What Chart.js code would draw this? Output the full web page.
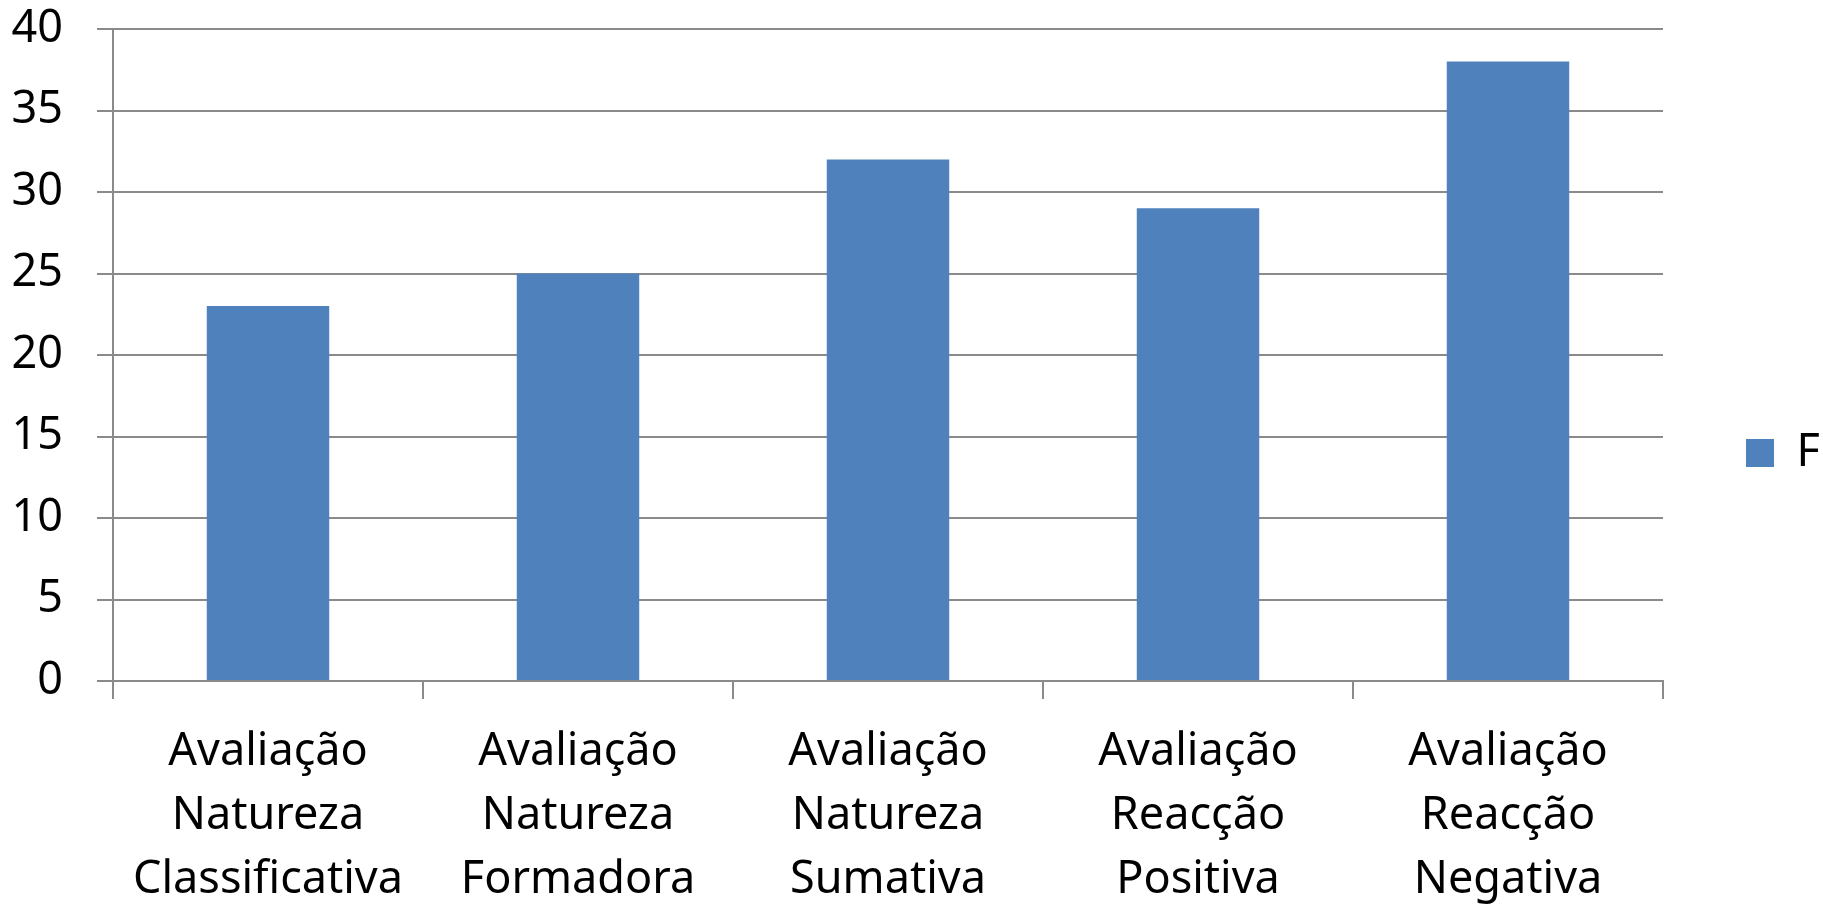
<!DOCTYPE html>
<html>
<head>
<meta charset="utf-8">
<script src="https://cdn.jsdelivr.net/npm/chart.js@4.4.0/dist/chart.umd.min.js"></script>
<style>
  html, body { margin: 0; padding: 0; background: #fff; }
  #wrap { width: 1823px; height: 906px; }
</style>
</head>
<body>
<div id="wrap"><canvas id="chart" width="1823" height="906"></canvas></div>
<script>
// categories (multi-line labels) and the single series F
const categories = [
  ['Avaliação', 'Natureza', 'Classificativa'],
  ['Avaliação', 'Natureza', 'Formadora'],
  ['Avaliação', 'Natureza', 'Sumativa'],
  ['Avaliação', 'Reacção', 'Positiva'],
  ['Avaliação', 'Reacção', 'Negativa']
];
const seriesName = 'F';
const seriesValues = [23, 25, 32, 29, 38];
const yMin = 0;
const yMax = 40;
const yStep = 5;

const gridGray = '#8a8a8a';
const barBlue = '#4f81bd';
const fontFamily = '"Noto Sans", "Open Sans", sans-serif';

Chart.defaults.font.family = fontFamily;
Chart.defaults.color = '#000';

const ctx = document.getElementById('chart');
const chartObj = new Chart(ctx, {
  type: 'bar',
  data: {
    labels: categories,
    datasets: [{
      label: seriesName,
      data: seriesValues,
      backgroundColor: barBlue,
      borderWidth: 0,
      barPercentage: 0.395,
      categoryPercentage: 1
    }]
  },
  options: {
    responsive: false,
    animation: false,
    devicePixelRatio: 1,
    layout: {
      padding: { top: 0, left: 0, right: 0, bottom: 0 }
    },
    plugins: {
      tooltip: { enabled: false },
      legend: {
        position: 'right',
        maxWidth: 160,
        labels: {
          boxWidth: 28,
          boxHeight: 28,
          padding: 83,
          color: '#000',
          font: { size: 45 }
        }
      }
    },
    scales: {
      x: {
        grid: {
          offset: true,
          drawOnChartArea: false,
          drawTicks: true,
          tickLength: 18,
          color: gridGray,
          lineWidth: 2
        },
        border: { color: gridGray, width: 2 },
        ticks: {
          padding: 21,
          color: '#000',
          maxRotation: 0,
          autoSkip: false,
          font: { size: 45, lineHeight: 1.42 }
        },
        afterFit: (s) => {
          s.height = 906 - 681;
          s.paddingLeft = 0;
          s.paddingRight = 0;
        }
      },
      y: {
        min: yMin,
        max: yMax,
        grid: {
          color: gridGray,
          lineWidth: 2,
          tickLength: 16
        },
        border: { color: gridGray, width: 2 },
        ticks: {
          stepSize: yStep,
          padding: 34,
          color: '#000',
          font: { size: 45, lineHeight: 1.2 }
        },
        afterFit: (s) => {
          s.width = 113;
          s.paddingTop = 29;
          s.paddingBottom = 0;
        }
      }
    }
  }
});
</script>
</body>
</html>
